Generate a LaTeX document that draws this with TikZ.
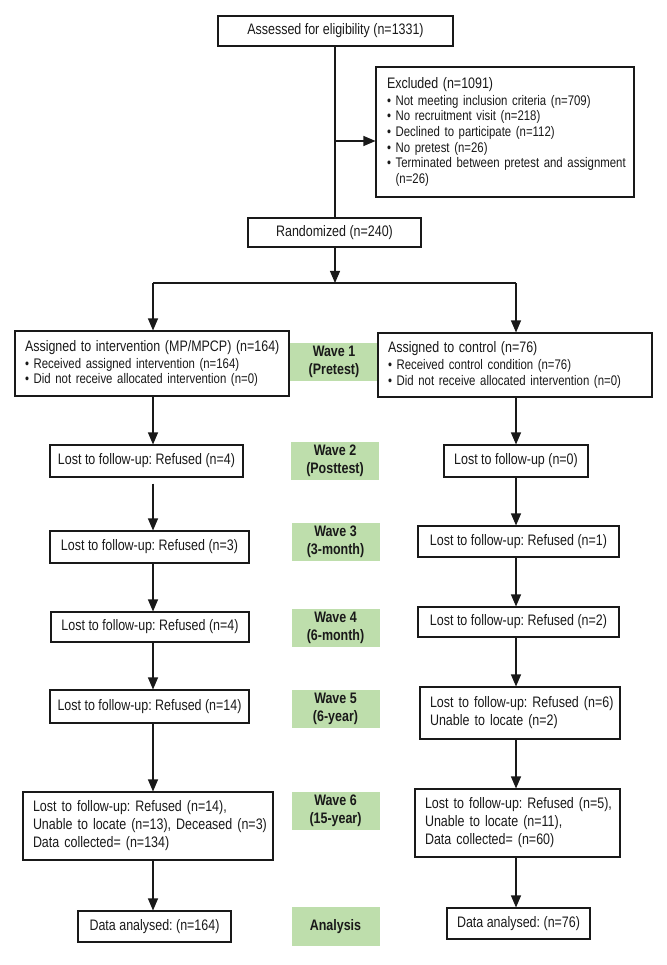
\documentclass[tikz,border=0pt]{standalone}
\usepackage{fontspec}
\setmainfont{Liberation Sans}[FakeStretch=0.82]
\usetikzlibrary{arrows.meta}
\definecolor{wavegreen}{RGB}{190,222,172}
\definecolor{ink}{RGB}{25,25,25}
\newcommand{\mainfs}{\fontsize{15.2}{18}\selectfont}
\newcommand{\bulfs}{\fontsize{13.9}{15.7}\selectfont}
\newcommand{\li}[1]{\mbox{#1}}
\newcommand{\bul}{\textbullet\ }
\frenchspacing
\begin{document}
\begin{tikzpicture}[x=1pt,y=-1pt,
  box/.style={draw=ink, line width=1.1pt, inner sep=0pt, text=ink, font=\mainfs, align=center},
  mbox/.style={box, align=left, inner xsep=10pt, text width=#1},
  wave/.style={fill=wavegreen, inner sep=0pt, minimum width=88pt, minimum height=38pt, font=\mainfs\bfseries, align=center, text=ink},
  arr/.style={draw=ink, line width=1.1pt, -{Triangle[length=12pt,width=10pt]}},
  ln/.style={draw=ink, line width=1.1pt}]
\useasboundingbox (0,0) rectangle (666,965);

% top part
\node[box, minimum width=235pt, minimum height=30pt] (assess) at (335.5,31) {Assessed for eligibility (n=1331)};
\node[mbox=236pt, inner xsep=11pt, minimum height=130pt, font=\bulfs] (excl) at (505,132)
 {\li{\mainfs Excluded (n=1091)}\\[1pt]
  \li{\bul Not meeting inclusion criteria (n=709)}\\
  \li{\bul No recruitment visit (n=218)}\\
  \li{\bul Declined to participate (n=112)}\\
  \li{\bul No pretest (n=26)}\\
  \li{\bul Terminated between pretest and assignment}\\
  \li{\phantom{\bul}(n=26)}};
\node[box, minimum width=173pt, minimum height=29pt] (rand) at (334.5,232.5) {Randomized (n=240)};

% wave 1
\node[mbox=254pt, minimum height=65pt, font=\bulfs] (int) at (152,363.5)
 {\li{\mainfs Assigned to intervention (MP/MPCP) (n=164)}\\[1pt]
  \li{\bul Received assigned intervention (n=164)}\\
  \li{\bul Did not receive allocated intervention (n=0)}};
\node[wave] (g1) at (334,362) {Wave 1\\(Pretest)};
\node[mbox=254pt, minimum height=64pt, font=\bulfs] (ctl) at (515,365)
 {\li{\mainfs Assigned to control (n=76)}\\[1pt]
  \li{\bul Received control condition (n=76)}\\
  \li{\bul Did not receive allocated intervention (n=0)}};

% wave 2
\node[box, minimum width=193pt, minimum height=32pt] (l2) at (146.5,461) {Lost to follow-up: Refused (n=4)};
\node[wave] (g2) at (335,461) {Wave 2\\(Posttest)};
\node[box, minimum width=144pt, minimum height=32pt] (r2) at (516,461) {Lost to follow-up (n=0)};

% wave 3
\node[box, minimum width=199pt, minimum height=32pt] (l3) at (149.5,547) {Lost to follow-up: Refused (n=3)};
\node[wave] (g3) at (335.5,542) {Wave 3\\(3-month)};
\node[box, minimum width=201pt, minimum height=31pt] (r3) at (518.5,541.5) {Lost to follow-up: Refused (n=1)};

% wave 4
\node[box, minimum width=198pt, minimum height=30pt] (l4) at (150,627) {Lost to follow-up: Refused (n=4)};
\node[wave] (g4) at (335.5,628) {Wave 4\\(6-month)};
\node[box, minimum width=201pt, minimum height=30pt] (r4) at (518.5,622) {Lost to follow-up: Refused (n=2)};

% wave 5
\node[box, minimum width=199pt, minimum height=33pt] (l5) at (149.5,706.5) {Lost to follow-up: Refused (n=14)};
\node[wave] (g5) at (335.5,709) {Wave 5\\(6-year)};
\node[mbox=180pt, minimum height=52pt] (r5) at (520,713)
 {\li{Lost to follow-up: Refused (n=6)}\\
  \li{Unable to locate (n=2)}};

% wave 6
\node[mbox=230pt, minimum height=68pt] (l6) at (148,826)
 {\li{Lost to follow-up: Refused (n=14),}\\
  \li{Unable to locate (n=13), Deceased (n=3)}\\
  \li{Data collected= (n=134)}};
\node[wave] (g6) at (335.5,811) {Wave 6\\(15-year)};
\node[mbox=185pt, minimum height=68pt] (r6) at (517.5,823)
 {\li{Lost to follow-up: Refused (n=5),}\\
  \li{Unable to locate (n=11),}\\
  \li{Data collected= (n=60)}};

% analysis
\node[box, minimum width=153pt, minimum height=31pt] (la) at (154.5,926.5) {Data analysed: (n=164)};
\node[wave, minimum height=39pt] (ga) at (335.5,926.5) {Analysis};
\node[box, minimum width=143pt, minimum height=31pt] (ra) at (518.5,923.5) {Data analysed: (n=76)};

% connectors
\coordinate (br) at (335,141);
\coordinate (sp) at (335,283);
\coordinate (colL) at (153,283);
\coordinate (colR) at (516,283);
\draw[ln] (assess.south -| br) -- (rand.north -| br);
\draw[arr] (br) -- (br -| excl.west);
\draw[arr] (rand.south -| sp) -- (sp);
\draw[ln] (colL) -- (colR);
\draw[arr] (colL) -- (colL |- int.north);
\draw[arr] (colR) -- (colR |- ctl.north);

\draw[arr] (int.south -| colL) -- (l2.north -| colL);
\draw[arr, shorten <=6pt] (l2.south -| colL) -- (l3.north -| colL);
\draw[arr] (l3.south -| colL) -- (l4.north -| colL);
\draw[arr] (l4.south -| colL) -- (l5.north -| colL);
\draw[arr] (l5.south -| colL) -- (l6.north -| colL);
\draw[arr] (l6.south -| colL) -- (la.north -| colL);

\draw[arr] (ctl.south -| colR) -- (r2.north -| colR);
\draw[arr] (r2.south -| colR) -- (r3.north -| colR);
\draw[arr] (r3.south -| colR) -- (r4.north -| colR);
\draw[arr] (r4.south -| colR) -- (r5.north -| colR);
\draw[arr] (r5.south -| colR) -- (r6.north -| colR);
\draw[arr] (r6.south -| colR) -- (ra.north -| colR);
\end{tikzpicture}
\end{document}
